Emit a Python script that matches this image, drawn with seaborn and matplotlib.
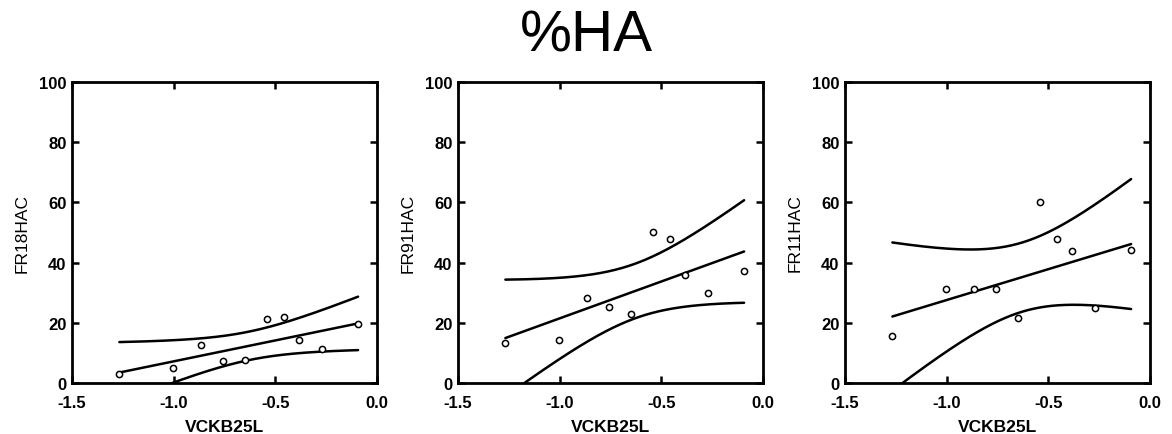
import numpy as np
import pandas as pd
import matplotlib
matplotlib.use("Agg")
import matplotlib.pyplot as plt
import seaborn as sns

# ---- data ----
x_vckb25l = [-1.267, -1.005, -0.867, -0.759, -0.648, -0.543, -0.457, -0.382, -0.270, -0.093]
y_fr18hac = [2.9, 5.0, 12.6, 7.3, 7.5, 21.2, 22.0, 14.3, 11.2, 19.5]
y_fr91hac = [13.3, 14.4, 28.3, 25.4, 22.8, 50.3, 48.0, 35.9, 29.9, 37.3]
y_fr11hac = [15.7, 31.1, 31.3, 31.1, 21.5, 60.0, 48.0, 44.0, 24.8, 44.2]
panel_ylabels = ["FR18HAC", "FR91HAC", "FR11HAC"]
x_label = "VCKB25L"
title = "%HA"
x_ticks = [-1.5, -1.0, -0.5, 0.0]
y_ticks = [0, 20, 40, 60, 80, 100]

# Working-Hotelling 95% confidence band multiplier: sqrt(2 * F_0.95(2, n-2)), n = 10
W_CRIT = 2.987

sns.set_theme(style="white")
plt.rcParams["font.family"] = ["Liberation Sans", "DejaVu Sans"]
plt.rcParams["text.color"] = "black"
plt.rcParams["axes.labelcolor"] = "black"

fig = plt.figure(figsize=(11.72, 4.35), dpi=100)
lefts = [72 / 1172, 458 / 1172, 845 / 1172]
ax_w = 305 / 1172
ax_b = 1 - 384 / 435
ax_h = 301 / 435

series = [y_fr18hac, y_fr91hac, y_fr11hac]

for left, ys, ylab in zip(lefts, series, panel_ylabels):
    ax = fig.add_axes([left, ax_b, ax_w, ax_h])
    x = np.asarray(x_vckb25l, float)
    y = np.asarray(ys, float)
    n = len(x)
    xm = x.mean()
    sxx = ((x - xm) ** 2).sum()
    slope = ((x - xm) * (y - y.mean())).sum() / sxx
    icpt = y.mean() - slope * xm
    resid = y - (icpt + slope * x)
    s = np.sqrt((resid ** 2).sum() / (n - 2))
    xg = np.linspace(x.min(), x.max(), 200)
    fit = icpt + slope * xg
    half = W_CRIT * s * np.sqrt(1.0 / n + (xg - xm) ** 2 / sxx)

    df_line = pd.DataFrame({"x": np.concatenate([xg, xg, xg]),
                            "y": np.concatenate([fit, fit + half, fit - half]),
                            "g": ["fit"] * len(xg) + ["upper"] * len(xg) + ["lower"] * len(xg)})
    sns.lineplot(data=df_line, x="x", y="y", units="g", estimator=None, sort=False,
                 color="black", linewidth=1.8, ax=ax, legend=False)
    sns.scatterplot(x=x, y=y, ax=ax, marker="o", s=20, facecolor="white",
                    edgecolor="black", linewidth=1.1, zorder=5, legend=False)

    ax.set_xlim(-1.5, 0.0)
    ax.set_ylim(0, 100)
    ax.set_xticks(x_ticks)
    ax.set_yticks(y_ticks)
    ax.set_xticklabels([f"{t:.1f}" for t in x_ticks])
    ax.set_yticklabels([str(t) for t in y_ticks])
    ax.tick_params(direction="in", length=5, width=1.8, top=True, right=True,
                   bottom=True, left=True, labelsize=12, colors="black")
    ax.tick_params(axis="x", pad=9)
    ax.tick_params(axis="y", pad=4)
    for lab in ax.get_xticklabels() + ax.get_yticklabels():
        lab.set_fontweight("bold")
    for sp in ax.spines.values():
        sp.set_visible(True)
        sp.set_color("black")
        sp.set_linewidth(2.0)
    ax.set_xlabel(x_label, fontsize=12.5, fontweight="bold", labelpad=6, color="black")
    ax.set_ylabel(ylab, fontsize=12.5, labelpad=7, color="black")
    ax.grid(False)

fig.text(0.5, 0.915, title, ha="center", va="center", fontsize=42, color="black")

fig.savefig("out.png", dpi=100, facecolor="white")
